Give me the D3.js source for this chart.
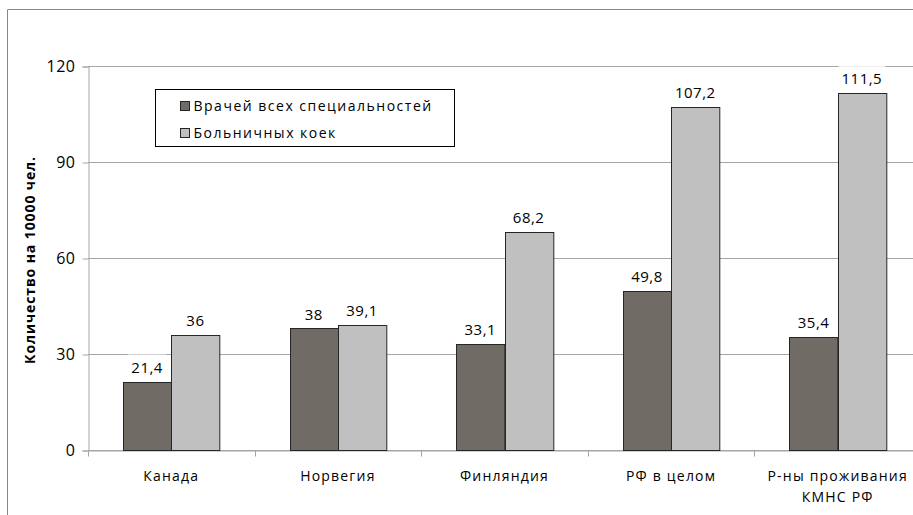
<!DOCTYPE html>
<html>
<head>
<meta charset="utf-8">
<script src="https://cdn.jsdelivr.net/npm/d3@7"></script>
<style>
  body { margin: 0; background: #fff; }
  text { font-family: "Open Sans", "DejaVu Sans", sans-serif; fill: #000; }
</style>
</head>
<body>
<div id="chart"></div>
<script>
const categories = ["Канада", "Норвегия", "Финляндия", "РФ в целом", "Р-ны проживания|КМНС РФ"];
const seriesNames = ["Врачей всех специальностей", "Больничных коек"];
const doctors = [21.4, 38, 33.1, 49.8, 35.4];
const beds = [36, 39.1, 68.2, 107.2, 111.5];
const yTicks = [0, 30, 60, 90, 120];
const colors = ["#716b66", "#c0c0c0"];

const w = 913, h = 515;
const mLeft = 88, mRight = 921, mTop = 66, mBottom = 450;

const svg = d3.select('#chart').append('svg')
  .attr('width', w).attr('height', h);

// outer chart border
svg.append('path')
  .attr('d', 'M7.5,' + (h + 5) + 'V9.5H' + (w + 5))
  .attr('fill', 'none').attr('stroke', '#888').attr('stroke-width', 1);

const x0 = d3.scaleBand().domain(categories).range([mLeft, mRight]).paddingInner(0).paddingOuter(0);
const x1 = d3.scaleBand().domain([0, 1]).range([35, x0.bandwidth() - 35]);
const y = d3.scaleLinear().domain([0, 120]).range([mBottom, mTop]);

// gridlines
svg.append('g').selectAll('line').data(yTicks).enter().append('line')
  .attr('x1', mLeft).attr('x2', mRight)
  .attr('y1', d => Math.round(y(d)) + 0.5).attr('y2', d => Math.round(y(d)) + 0.5)
  .attr('stroke', '#a6a6a6');

// y axis
const yAxis = d3.axisLeft(y).tickValues(yTicks).tickSize(6).tickPadding(7);
const gy = svg.append('g').attr('transform', 'translate(' + (mLeft + 0.5) + ',0.5)').call(yAxis);
gy.select('.domain').attr('stroke', '#a6a6a6');
gy.selectAll('.tick line').attr('stroke', '#a6a6a6');
gy.selectAll('.tick text').attr('font-size', 16).attr('letter-spacing', 0.5)
  .attr('font-family', '"Open Sans", sans-serif').attr('fill', '#000');

// x axis
const xAxis = d3.axisBottom(x0).tickSize(0).tickFormat('');
const gx = svg.append('g').attr('transform', 'translate(0,' + (mBottom + 0.5) + ')').call(xAxis);
gx.select('.domain').attr('stroke', '#a6a6a6');
gx.selectAll('.tk').data(categories.concat(['_end'])).enter().append('line')
  .attr('x1', (d, i) => Math.round(mLeft + i * x0.bandwidth()) + 0.5)
  .attr('x2', (d, i) => Math.round(mLeft + i * x0.bandwidth()) + 0.5)
  .attr('y1', 0).attr('y2', 6).attr('stroke', '#a6a6a6');

// category labels
const catLabels = svg.append('g').selectAll('text').data(categories).enter().append('text')
  .attr('x', d => x0(d) + x0.bandwidth() / 2)
  .attr('y', 481)
  .attr('text-anchor', 'middle')
  .attr('font-size', 14)
  .attr('letter-spacing', 1.2);
catLabels.each(function(d) {
  const parts = d.split('|');
  d3.select(this).selectAll('tspan').data(parts).enter().append('tspan')
    .attr('x', x0(d) + x0.bandwidth() / 2)
    .attr('dy', (p, i) => i === 0 ? 0 : 21)
    .text(p => p);
});

// bars
const series = [doctors, beds];
series.forEach((vals, s) => {
  svg.append('g').selectAll('rect').data(vals).enter().append('rect')
    .attr('x', (d, i) => Math.round(x0(categories[i]) + x1(s)) + 0.5)
    .attr('y', d => Math.round(y(d)) + 0.5)
    .attr('width', x1.bandwidth())
    .attr('height', d => Math.round(y(0)) - Math.round(y(d)))
    .attr('fill', colors[s])
    .attr('stroke', '#262626');
});

// value labels
series.forEach((vals, s) => {
  const g = svg.append('g').selectAll('g').data(vals).enter().append('g')
    .attr('transform', (d, i) => 'translate(' + (x0(categories[i]) + x1(s) + x1.bandwidth() / 2) + ',' + (y(d) - 14) + ')');
  g.append('text')
    .attr('text-anchor', 'middle')
    .attr('dy', '0.35em')
    .attr('font-size', 15)
    .attr('letter-spacing', 0.5)
    .text(d => String(d).replace('.', ','));
  g.insert('rect', 'text')
    .attr('x', function() { return -this.parentNode.querySelector('text').getBBox().width / 2 - 3; })
    .attr('width', function() { return this.parentNode.querySelector('text').getBBox().width + 6; })
    .attr('y', -13).attr('height', 26)
    .attr('fill', '#fff');
});

// y title
svg.append('text')
  .attr('transform', 'translate(35,' + ((mTop + mBottom) / 2 + 2) + ') rotate(-90)')
  .attr('text-anchor', 'middle')
  .attr('font-size', 14)
  .attr('font-weight', 'bold')
  .attr('letter-spacing', 0.9)
  .text('Количество на 10000 чел.');

// legend
const lg = svg.append('g').attr('transform', 'translate(155.5,89.5)');
lg.append('rect').attr('width', 299).attr('height', 57)
  .attr('fill', '#fff').attr('stroke', '#000');
seriesNames.forEach((name, i) => {
  lg.append('rect').attr('x', 25).attr('y', 12 + i * 27)
    .attr('width', 9).attr('height', 9)
    .attr('fill', colors[i]).attr('stroke', '#262626');
  lg.append('text').attr('x', 38).attr('y', 17 + i * 27)
    .attr('dy', '0.35em').attr('font-size', 14).attr('letter-spacing', 1.5)
    .text(name);
});
</script>
</body>
</html>
